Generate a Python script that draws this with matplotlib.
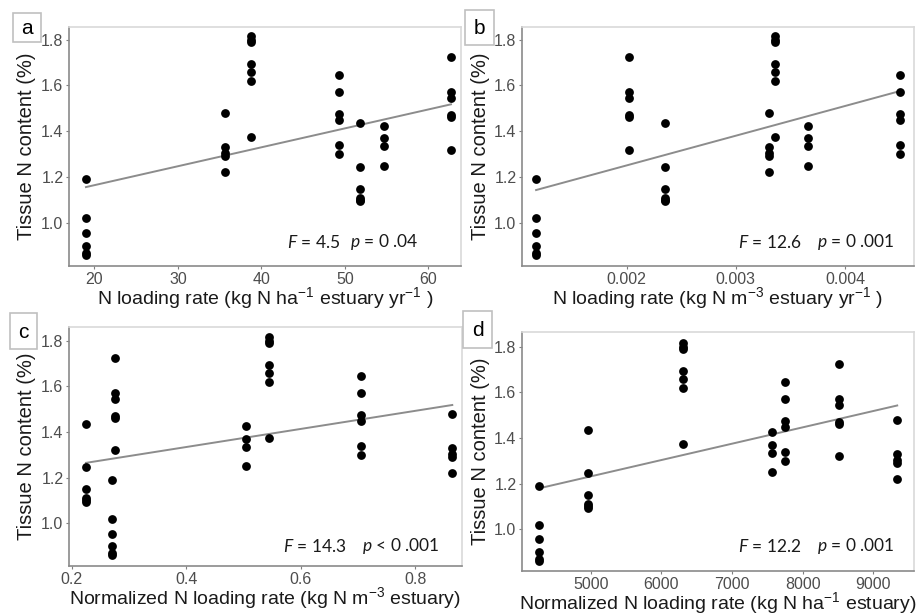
import numpy as np
import matplotlib
matplotlib.use("Agg")
import matplotlib.pyplot as plt
from matplotlib.patches import Rectangle

plt.rcParams['font.family'] = ['Liberation Sans', 'DejaVu Sans']
plt.rcParams['mathtext.fontset'] = 'custom'
plt.rcParams['mathtext.rm'] = 'Liberation Sans'
plt.rcParams['mathtext.it'] = 'Lato:italic'

# Tissue N content (%) per site (same samples in all panels)
site_names = ["A", "B", "C", "D", "E", "F", "G"]
y_A = [1.19, 1.02, 0.955, 0.90, 0.87, 0.86]
y_B = [1.48, 1.33, 1.305, 1.29, 1.22]
y_C = [1.815, 1.80, 1.79, 1.695, 1.66, 1.62, 1.375]
y_D = [1.645, 1.57, 1.475, 1.45, 1.34, 1.30]
y_E = [1.435, 1.245, 1.15, 1.11, 1.10, 1.095]
y_F = [1.425, 1.37, 1.335, 1.25]
y_G = [1.725, 1.57, 1.545, 1.47, 1.46, 1.32]
site_y = [y_A, y_B, y_C, y_D, y_E, y_F, y_G]

# Site x values for each panel
x_a = [19.0, 35.6, 38.8, 49.3, 51.8, 54.7, 62.7]              # kg N ha-1 yr-1
x_b = [0.00117, 0.00330, 0.00336, 0.00450, 0.00235, 0.00366, 0.00202]  # kg N m-3 yr-1
x_c = [0.270, 0.865, 0.545, 0.705, 0.225, 0.505, 0.2757]      # normalized kg N m-3
x_d = [4266, 9340, 6300, 7745, 4966, 7566, 8515]              # normalized kg N ha-1

panel_letters = ["a", "b", "c", "d"]
xlabels = [
    r"N loading rate (kg N ha$^{-1}$ estuary yr$^{-1}$ )",
    r"N loading rate (kg N m$^{-3}$ estuary yr$^{-1}$ )",
    r"Normalized N loading rate (kg N m$^{-3}$ estuary)",
    r"Normalized N loading rate (kg N ha$^{-1}$ estuary)",
]
F_text = ["4.5", "12.6", "14.3", "12.2"]
p_text = ["= 0 .04", "= 0 .001", "< 0 .001", "= 0 .001"]
xticks_list = [[20, 30, 40, 50, 60], [0.002, 0.003, 0.004], [0.2, 0.4, 0.6, 0.8],
               [5000, 6000, 7000, 8000, 9000]]
xtick_labels = [["20", "30", "40", "50", "60"], ["0.002", "0.003", "0.004"],
                ["0.2", "0.4", "0.6", "0.8"], ["5000", "6000", "7000", "8000", "9000"]]
xlims = [(16.97, 63.9), (0.001041, 0.004632), (0.1953, 0.882), (4024, 9578)]
ylims = [(0.812, 1.857), (0.812, 1.857), (0.813, 1.86), (0.817, 1.864)]
yticks = [1.0, 1.2, 1.4, 1.6, 1.8]
ytick_labels = ["1.0", "1.2", "1.4", "1.6", "1.8"]
all_x = [x_a, x_b, x_c, x_d]

W, H = 917, 615
fig = plt.figure(figsize=(W / 100, H / 100), dpi=100)

# axes boxes in pixels: left, top, right, bottom
ax_px = [(69, 26.5, 461, 266), (522, 26.5, 914, 266), (69, 327, 462, 566), (522, 332, 914, 571)]
box_px = [(13, 13, 41, 42), (465, 10, 494, 45), (10, 313, 37, 349), (463, 311, 492, 348)]
ann_px = [(287, 350, 242), (738, 817, 242), (283, 362, 546), (738, 817, 546)]
xlabel_cy = [298, 298, 598, 603]
ylabel_cx = [26, 480, 26, 480]

for i in range(4):
    l, t, r, b = ax_px[i]
    ax = fig.add_axes([l / W, 1 - b / H, (r - l) / W, (b - t) / H])
    xs = np.concatenate([np.full(len(yy), xx) for xx, yy in zip(all_x[i], site_y)])
    ys = np.concatenate([np.array(yy) for yy in site_y])
    ax.scatter(xs, ys, s=40, color="black", zorder=3, linewidths=0)
    k, c0 = np.polyfit(xs, ys, 1)
    xl = np.array([xs.min(), xs.max()])
    ax.plot(xl, k * xl + c0, color="#8c8c8c", lw=1.4, zorder=2)
    ax.set_xlim(*xlims[i])
    ax.set_ylim(*ylims[i])
    ax.set_xticks(xticks_list[i])
    ax.set_xticklabels(xtick_labels[i])
    ax.set_yticks(yticks)
    ax.set_yticklabels(ytick_labels)
    ax.tick_params(axis="both", direction="out", length=2.5, width=0.8, color="#7f7f7f",
                   labelsize=11.5, labelcolor="#4d4d4d", pad=1.5)
    for s in ["left", "bottom"]:
        ax.spines[s].set_color("#8a8a8a")
        ax.spines[s].set_linewidth(1.2)
    for s in ["top", "right"]:
        ax.spines[s].set_color("#d9d9d9")
        ax.spines[s].set_linewidth(1.2)
    ax.set_ylabel("Tissue N content (%)", fontsize=14.5, color="#1a1a1a", va="center")
    ax.yaxis.set_label_coords((ylabel_cx[i] - l) / (r - l), (b - 146 - (t - 26.5)) / (b - t))
    ax.set_xlabel(xlabels[i], fontsize=14, color="#1a1a1a", va="center")
    ax.xaxis.set_label_coords(0.5, (b - xlabel_cy[i]) / (b - t))

    fx, px_, ay = ann_px[i]
    fig.text(fx / W, 1 - ay / H, r"$F$ = " + F_text[i], fontsize=12.5, family="Lato",
             ha="left", va="center", color="#1a1a1a")
    fig.text(px_ / W, 1 - ay / H, r"$p$ " + p_text[i], fontsize=12.5, family="Lato",
             ha="left", va="center", color="#1a1a1a")

    bl, bt, br, bb = box_px[i]
    fig.patches.append(Rectangle((bl / W, 1 - bb / H), (br - bl) / W, (bb - bt) / H,
                                 transform=fig.transFigure, facecolor="white",
                                 edgecolor="#c0c0c0", lw=1.2, zorder=5))
    fig.text((bl + br) / 2 / W, 1 - ((bt + bb) / 2 + 1) / H, panel_letters[i], fontsize=15,
             ha="center", va="center", color="black", zorder=6)

fig.savefig("out.png", dpi=100)
